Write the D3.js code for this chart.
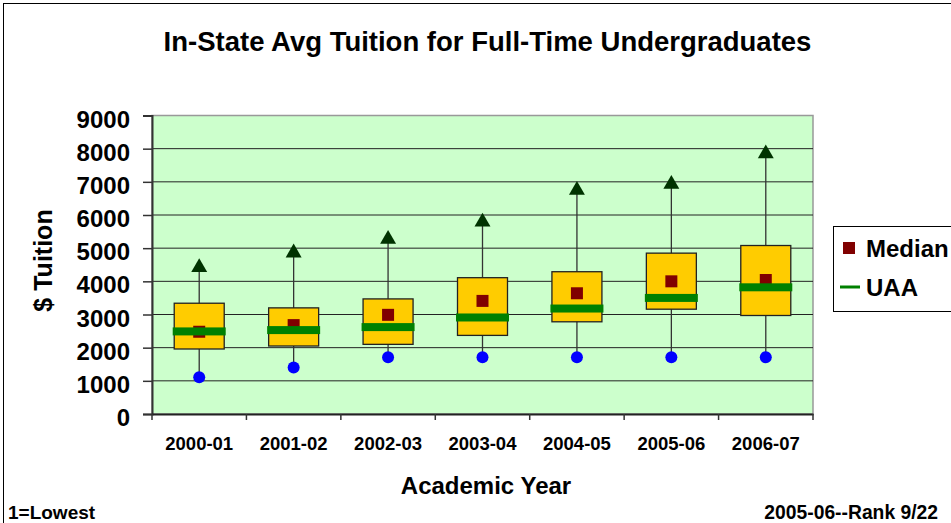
<!DOCTYPE html>
<html>
<head>
<meta charset="utf-8">
<script src="https://cdn.jsdelivr.net/npm/d3@7"></script>
<style>
  body { margin: 0; background: #fff; }
  text { font-family: Arial, "Liberation Sans", sans-serif; font-weight: bold; fill: #000; }
</style>
</head>
<body>
<svg width="951" height="523"></svg>
<script>
// data
const years = ["2000-01", "2001-02", "2002-03", "2003-04", "2004-05", "2005-06", "2006-07"];
const maxVals = [4450, 4890, 5300, 5820, 6780, 6960, 7880];
const q3Vals = [3340, 3200, 3470, 4110, 4290, 4850, 5080];
const medianVals = [2480, 2680, 2990, 3410, 3640, 4000, 4040];
const uaaVals = [2490, 2530, 2620, 2910, 3180, 3500, 3820];
const q1Vals = [1960, 2050, 2100, 2370, 2780, 3160, 2970];
const minVals = [1110, 1400, 1710, 1710, 1710, 1710, 1710];
const yTicks = [0, 1000, 2000, 3000, 4000, 5000, 6000, 7000, 8000, 9000];

const svg = d3.select("svg");
const width = +svg.attr("width");
const height = +svg.attr("height");

const plot = { left: 152, right: 813, top: 115.5, bottom: 414 };

// frame
svg.append("rect")
    .attr("x", 3.5).attr("y", 3.5)
    .attr("width", width + 10).attr("height", height + 10)
    .attr("fill", "none")
    .attr("stroke", "#000")
    .attr("stroke-width", 1);

const x = d3.scaleBand()
    .domain(years)
    .range([plot.left, plot.right]);

const y = d3.scaleLinear()
    .domain([0, 9000])
    .range([plot.bottom, plot.top]);

// plot background
svg.append("rect")
    .attr("x", plot.left).attr("y", plot.top)
    .attr("width", plot.right - plot.left)
    .attr("height", plot.bottom - plot.top)
    .attr("fill", "#CCFFCC")
    .attr("stroke", "#999")
    .attr("stroke-width", 1.5);

// gridlines
svg.append("g")
    .selectAll("line")
    .data(yTicks.filter(d => d > 0 && d < 9000))
    .join("line")
    .attr("x1", plot.left).attr("x2", plot.right)
    .attr("y1", d => y(d)).attr("y2", d => y(d))
    .attr("stroke", "#222")
    .attr("stroke-width", 1);

// y axis
const yAxis = svg.append("g")
    .attr("transform", `translate(${plot.left},0)`)
    .call(d3.axisLeft(y).tickValues(yTicks).tickSize(9).tickPadding(13).tickFormat(d3.format("d")));
yAxis.select(".domain").attr("stroke", "#333").attr("stroke-width", 2);
yAxis.selectAll(".tick line").attr("stroke", "#333").attr("stroke-width", 1.5);
yAxis.selectAll("text")
    .attr("dy", "0.48em")
    .style("font-size", "24px")
    .style("font-family", "Arial, 'Liberation Sans', sans-serif")
    .style("font-weight", "bold");

// x axis
const xAxis = svg.append("g")
    .attr("transform", `translate(0,${plot.bottom})`)
    .call(d3.axisBottom(x).tickSize(0).tickPadding(23));
xAxis.select(".domain").attr("stroke", "#222").attr("stroke-width", 2);
xAxis.selectAll("text")
    .style("font-size", "18.5px")
    .style("font-family", "Arial, 'Liberation Sans', sans-serif")
    .style("font-weight", "bold");
xAxis.selectAll(".sep")
    .data(d3.range(years.length + 1))
    .join("line")
    .attr("x1", i => plot.left + i * x.step())
    .attr("x2", i => plot.left + i * x.step())
    .attr("y1", 0).attr("y2", 6)
    .attr("stroke", "#333").attr("stroke-width", 1.5);

// box plot marks
const cx = i => x(years[i]) + x.bandwidth() / 2;
const boxes = svg.append("g");
const idx = d3.range(years.length);

boxes.selectAll(".whisker")
    .data(idx)
    .join("line")
    .attr("x1", cx).attr("x2", cx)
    .attr("y1", i => y(maxVals[i])).attr("y2", i => y(minVals[i]))
    .attr("stroke", "#333").attr("stroke-width", 1.3);

boxes.selectAll(".box")
    .data(idx)
    .join("rect")
    .attr("x", i => cx(i) - 25)
    .attr("width", 50)
    .attr("y", i => y(q3Vals[i]))
    .attr("height", i => y(q1Vals[i]) - y(q3Vals[i]))
    .attr("fill", "#FFCC00")
    .attr("stroke", "#222")
    .attr("stroke-width", 1.3);

boxes.selectAll(".median")
    .data(idx)
    .join("rect")
    .attr("x", i => cx(i) - 6)
    .attr("y", i => y(medianVals[i]) - 6)
    .attr("width", 12).attr("height", 12)
    .attr("fill", "#800000");

boxes.selectAll(".uaa")
    .data(idx)
    .join("rect")
    .attr("x", i => cx(i) - 26.5)
    .attr("y", i => y(uaaVals[i]) - 4)
    .attr("width", 53).attr("height", 8)
    .attr("fill", "#008000");

boxes.selectAll(".max")
    .data(idx)
    .join("path")
    .attr("d", d3.symbol().type(d3.symbolTriangle).size(110))
    .attr("transform", i => `translate(${cx(i)},${y(maxVals[i]) + 1})`)
    .attr("fill", "#003300");

boxes.selectAll(".min")
    .data(idx)
    .join("circle")
    .attr("cx", cx)
    .attr("cy", i => y(minVals[i]))
    .attr("r", 6)
    .attr("fill", "#0000FF");

// titles
svg.append("text")
    .attr("x", 487.5).attr("y", 51)
    .attr("text-anchor", "middle")
    .style("font-size", "27.5px")
    .text("In-State Avg Tuition for Full-Time Undergraduates");

svg.append("text")
    .attr("transform", `translate(52,260.5) rotate(-90)`)
    .attr("text-anchor", "middle")
    .style("font-size", "25px")
    .text("$ Tuition");

svg.append("text")
    .attr("x", 486).attr("y", 494)
    .attr("text-anchor", "middle")
    .style("font-size", "24px")
    .text("Academic Year");

svg.append("text")
    .attr("x", 8).attr("y", 519)
    .style("font-size", "19px")
    .text("1=Lowest");

svg.append("text")
    .attr("x", 938).attr("y", 519)
    .attr("text-anchor", "end")
    .style("font-size", "19.3px")
    .text("2005-06--Rank 9/22");

// legend
const legend = svg.append("g");
legend.append("rect")
    .attr("x", 833.5).attr("y", 226.5)
    .attr("width", 140).attr("height", 85)
    .attr("fill", "#fff")
    .attr("stroke", "#000");
legend.append("rect")
    .attr("x", 843).attr("y", 242)
    .attr("width", 12).attr("height", 12)
    .attr("fill", "#800000");
legend.append("line")
    .attr("x1", 840).attr("x2", 860)
    .attr("y1", 287).attr("y2", 287)
    .attr("stroke", "#008000").attr("stroke-width", 3);
legend.append("text")
    .attr("x", 866).attr("y", 257)
    .style("font-size", "24px")
    .text("Median");
legend.append("text")
    .attr("x", 866).attr("y", 296)
    .style("font-size", "24px")
    .text("UAA");
</script>
</body>
</html>
